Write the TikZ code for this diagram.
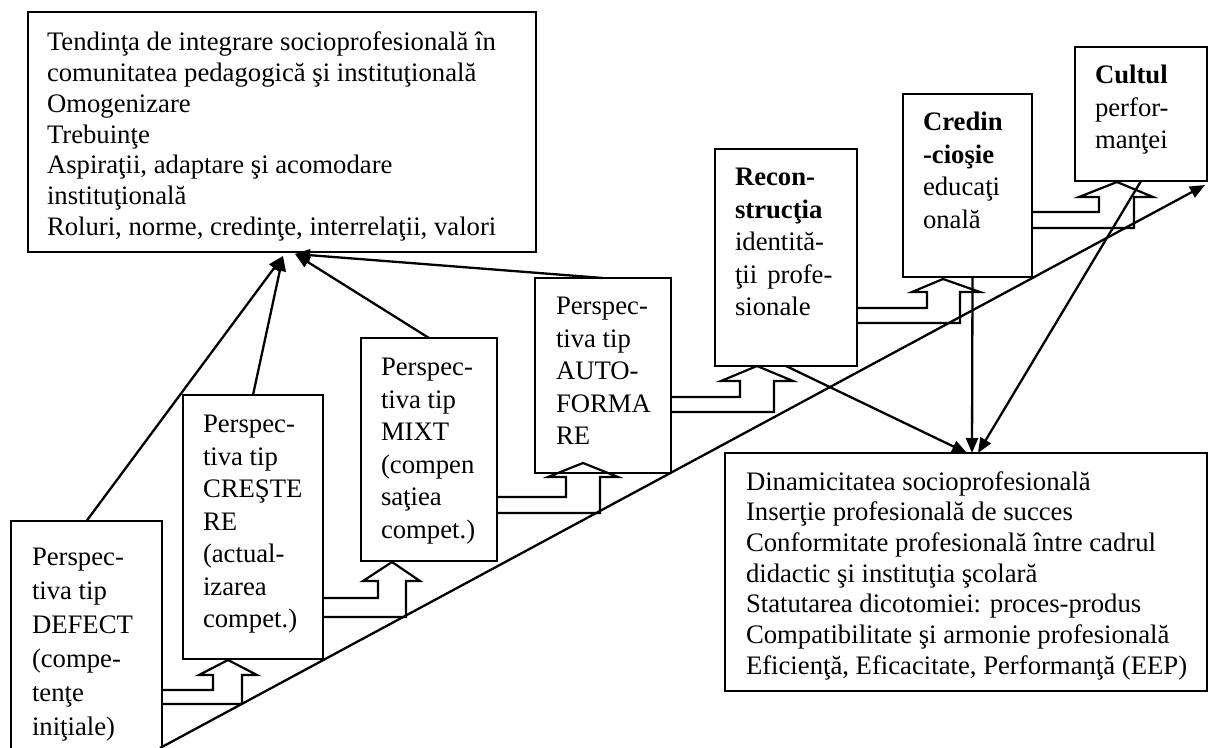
\documentclass[tikz,border=0pt]{standalone}
\usepackage{fontspec}
\setmainfont{Liberation Serif}
\usetikzlibrary{arrows.meta}
\begin{document}
\begin{tikzpicture}[x=1pt,y=-1pt,
  frame/.style={draw, line width=2.2pt, inner sep=0pt, outer sep=0pt, anchor=north west, fill=white},
  txt/.style={anchor=north west, align=left, inner sep=0pt, outer sep=0pt, font=\fontsize{26.7}{32.5}\selectfont},
  bigtxt/.style={txt, font=\fontsize{26.7}{30.7}\selectfont},
  loosetxt/.style={txt, font=\fontsize{26.7}{34}\selectfont},
  link/.style={line width=2.3pt, -{Triangle[length=15pt,width=12pt]}},
  hollow/.style={line width=2.2pt, line join=miter}
]
\useasboundingbox (0,0) rectangle (1209,747);
\begin{scope}
\clip (0,0) rectangle (1209,747);
% boxes
\node[frame, minimum width=508pt, minimum height=240pt] (T) at (28,12) {};
\node[frame, minimum width=151pt, minimum height=240pt] (D) at (11,521) {};
\node[frame, minimum width=140pt, minimum height=264pt] (C) at (183,395) {};
\node[frame, minimum width=136pt, minimum height=223pt] (M) at (361,338) {};
\node[frame, minimum width=136pt, minimum height=195pt] (A) at (535,278) {};
\node[frame, minimum width=142pt, minimum height=217pt] (R) at (715,149) {};
\node[frame, minimum width=129pt, minimum height=183pt] (Cr) at (903,94) {};
\node[frame, minimum width=132pt, minimum height=134pt] (Cu) at (1075,47) {};
\node[frame, minimum width=482pt, minimum height=238pt] (B) at (725,453) {};
% texts
\node[bigtxt] (Tt) at ([xshift=19pt,yshift=-17.5pt]T.north west) {\strut Tendinţa de integrare socioprofesională în\\comunitatea pedagogică şi instituţională\\Omogenizare\\Trebuinţe\\Aspiraţii, adaptare şi acomodare\\instituţională\\Roluri, norme, credinţe, interrelaţii, valori};
\node[bigtxt] (Bt) at ([xshift=21pt,yshift=-15.5pt]B.north west) {\strut Dinamicitatea socioprofesională\\Inserţie profesională de succes\\Conformitate profesională între cadrul\\didactic şi instituţia şcolară\\Statutarea dicotomiei: proces-produs\\Compatibilitate şi armonie profesională\\Eficienţă, Eficacitate, Performanţă (EEP)};
\node[loosetxt] (Dt) at ([xshift=21pt,yshift=-21pt]D.north west) {\strut Perspec-\\tiva tip\\DEFECT\\(compe-\\tenţe\\iniţiale)};
\node[txt] (Ct) at ([xshift=20pt,yshift=-15pt]C.north west) {\strut Perspec-\\tiva tip\\CREŞTE\\RE\\(actual-\\izarea\\compet.)};
\node[txt] (Mt) at ([xshift=20pt,yshift=-15pt]M.north west) {\strut Perspec-\\tiva tip\\MIXT\\(compen\\saţiea\\compet.)};
\node[txt] (At) at ([xshift=21pt,yshift=-14pt]A.north west) {\strut Perspec-\\tiva tip\\AUTO-\\FORMA\\RE};
\node[txt] (Rt) at ([xshift=20pt,yshift=-14pt]R.north west) {\strut\textbf{Recon-}\\\textbf{strucţia}\\identită-\\ţii\hspace{10pt}profe-\\sionale};
\node[txt] (Crt) at ([xshift=20pt,yshift=-14pt]Cr.north west) {\strut\textbf{Credin}\\\textbf{-cioşie}\\educaţi\\onală};
\node[txt] (Cut) at ([xshift=20pt,yshift=-14pt]Cu.north west) {\strut\textbf{Cultul}\\perfor-\\manţei};
% hollow block arrows
\draw[hollow] (D.east |- 0,690) -- (213,690) -- (213,675) -- (199,675) -- (228,660) -- (257,675) -- (242,675) -- (242,704) -- (D.east |- 0,704);
\draw[hollow] (C.east |- 0,598) -- (378,598) -- (378,581) -- (363,581) -- (392,562) -- (420,581) -- (406,581) -- (406,617) -- (C.east |- 0,617);
\draw[hollow] (M.east |- 0,497) -- (566,497) -- (566,477) -- (548,477) -- (583,463) -- (618,477) -- (600,477) -- (600,513) -- (M.east |- 0,513);
\draw[hollow] (A.east |- 0,397) -- (740,397) -- (740,381) -- (721,381) -- (757,366) -- (793,381) -- (774,381) -- (774,412) -- (A.east |- 0,412);
\draw[hollow] (R.east |- 0,308) -- (927,308) -- (927,292) -- (912,292) -- (943,279) -- (980,292) -- (960,292) -- (960,323) -- (R.east |- 0,323);
\draw[hollow] (Cr.east |- 0,212) -- (1099,212) -- (1099,197) -- (1079,197) -- (1117,182) -- (1153,197) -- (1134,197) -- (1134,228) -- (Cr.east |- 0,228);
% connectors
\draw[link] (D.north) -- ([xshift=1pt,yshift=-4pt]T.south);
\draw[link] (C.north) -- ([xshift=1pt,yshift=-4pt]T.south);
\draw[link] (M.north) -- ([xshift=13pt,yshift=-2pt]T.south);
\draw[link] (A.north) -- ([xshift=13pt,yshift=-2pt]T.south);
\draw[link] (R.south) -- ([xshift=1pt]B.north);
\draw[link] ([xshift=5pt]Cr.south) -- ([xshift=6pt]B.north);
\draw[link] (Cu.south) -- ([xshift=12pt]B.north);
\coordinate (s0) at (160,748);
\coordinate (s1) at (1205,185);
\draw[link] (s0) -- (s1);
\end{scope}
\end{tikzpicture}
\end{document}
